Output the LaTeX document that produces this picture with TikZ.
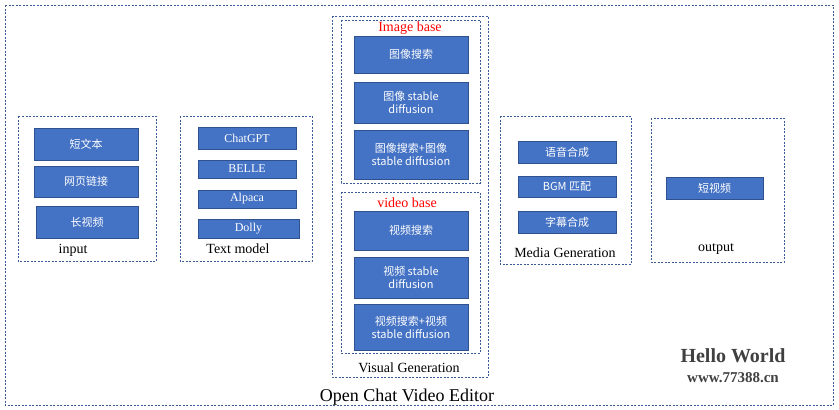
\documentclass[tikz,border=0pt]{standalone}
\usepackage{fontspec}
\setmainfont{Liberation Serif}
\newfontfamily\cjk{Noto Sans CJK SC}
\usetikzlibrary{positioning}
\definecolor{boxblue}{HTML}{4472C4}
\definecolor{boxedge}{HTML}{2F528F}
\definecolor{grpline}{HTML}{3A5A9A}
\tikzset{
  box/.style={draw=boxedge, fill=boxblue, text=white, align=center,
    inner sep=0pt, font=\cjk\fontsize{11}{13}\selectfont},
  grp/.style={draw=grpline, dashed, dash pattern=on 2pt off 1.5pt},
  lbl/.style={font=\fontsize{14}{16}\selectfont}
}
\begin{document}
\begin{tikzpicture}[x=1pt,y=-1pt]
            \useasboundingbox (0,0) rectangle (839,410);
            % Marco exterior
            \draw[grp] (5,5) rectangle (833,405);
            \node[font=\fontsize{18}{20}\selectfont] (title) at (407,397) {Open Chat Video Editor};

            % Grupos
            \draw[grp] (18,116) rectangle (156,261);
            \draw[grp] (180,116) rectangle (312,261);
            \draw[grp] (332,16) rectangle (488,377);
            \draw[grp] (341,20) rectangle (480,183);
            \draw[grp] (341,192) rectangle (480,353);
            \draw[grp] (500,116) rectangle (631,264);
            \draw[grp] (651,118) rectangle (784,262);

            % input
            \node[box, minimum width=104, minimum height=32] (short) at (86,144) {短文本};
            \node[box, minimum width=104, minimum height=31] (link) at (86,181.5) {网页链接};
            \node[box, minimum width=102, minimum height=32] (longv) at (87,222) {长视频};
            \node[lbl] (input) at (73,250) {input};

            % Text model
            \foreach \n/\t/\y/\h in {gpt/ChatGPT/138/22, belle/BELLE/169/18, alpaca/Alpaca/199/18} {
                \node[box, font=\fontsize{12}{14}\selectfont, minimum width=98, minimum height=\h] (\n) at (247,\y) {\t};
            }
            \node[box, font=\fontsize{12}{14}\selectfont, minimum width=101, minimum height=19] (dolly) at (248.5,228.5) {Dolly};
            \node[lbl] (textmodel) at (238,249) {Text model};

            % Visual Generation
            \node[lbl, text=red] (imgbase) at (410,28) {Image base};
            \node[box, minimum width=114, minimum height=37] (imgsearch) at (411,54.5) {图像搜索};
            \node[box, minimum width=114, minimum height=41] (imgsd) at (411,102.5) {图像 stable\\diffusion};
            \node[box, minimum width=114, minimum height=49] (imgboth) at (411,154.5) {图像搜索+图像\\stable diffusion};
            \node[lbl, text=red] (vidbase) at (407,203) {video base};
            \node[box, minimum width=114, minimum height=39] (vidsearch) at (411,230.5) {视频搜索};
            \node[box, minimum width=114, minimum height=41] (vidsd) at (411,277.5) {视频 stable\\diffusion};
            \node[box, minimum width=114, minimum height=46] (vidboth) at (411,327) {视频搜索+视频\\stable diffusion};
            \node[lbl] (visual) at (409,368) {Visual Generation};

            % Media Generation
            \node[box, minimum width=98, minimum height=22] (tts) at (567,152) {语音合成};
            \node[box, minimum width=98, minimum height=21] (bgm) at (567,186.5) {BGM 匹配};
            \node[box, minimum width=98, minimum height=22] (subs) at (567,222) {字幕合成};
            \node[lbl] (media) at (565,253) {Media Generation};

            % output
            \node[box, minimum width=97, minimum height=22] (shortv) at (714.5,188) {短视频};
            \node[lbl] (output) at (716,249) {output};

            % Marca de agua
            \node[font=\bfseries\fontsize{20}{22}\selectfont, text=black!75] (hello) at (733,356) {Hello World};
            \node[font=\bfseries\fontsize{15}{17}\selectfont, text=black!75] (site) at (733,378) {www.77388.cn};
\end{tikzpicture}
\end{document}
